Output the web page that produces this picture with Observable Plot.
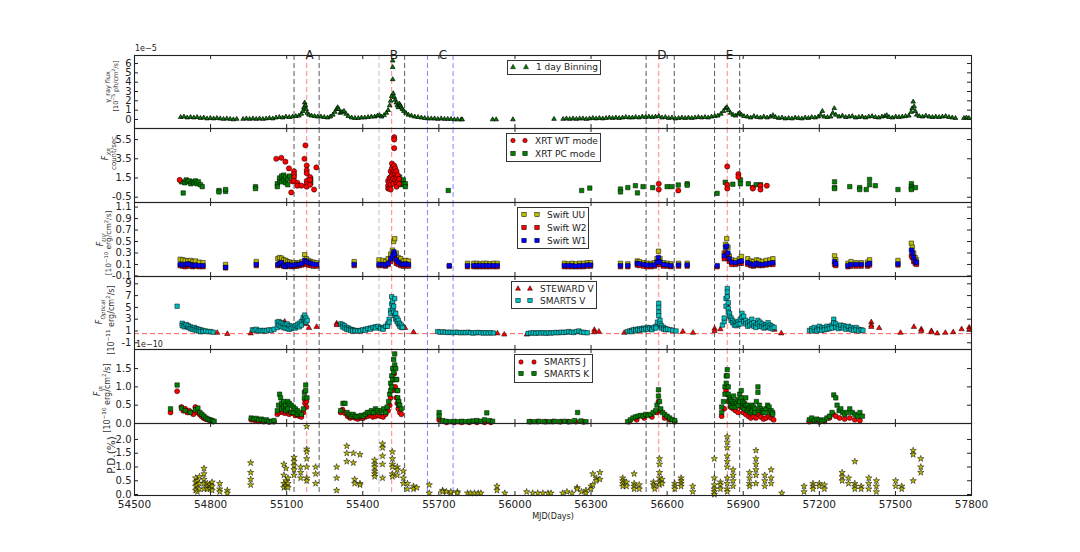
<!DOCTYPE html>
<html><head><meta charset="utf-8">
<script src="https://cdn.jsdelivr.net/npm/d3@7"></script>
<script src="https://cdn.jsdelivr.net/npm/@observablehq/plot@0.6"></script>
<style>
body{margin:0;background:#fff;font-family:"DejaVu Sans",sans-serif;}
#wrap{position:relative;width:1080px;height:552px;overflow:hidden;background:#fff;}
#wrap svg.plotsvg{position:absolute;left:0;}
.lab{position:absolute;white-space:nowrap;transform:translate(-50%,-50%) rotate(-90deg);color:#333;line-height:1;}
.lab sup,.lab sub{font-size:70%;line-height:0;}
.leg{position:absolute;border:1px solid #333;background:#fff;box-sizing:border-box;}
.leg span{position:absolute;font-size:9px;color:#222;white-space:nowrap;transform:translateY(-50%);line-height:1;}
.leg svg{position:absolute;left:0;top:0;}
.txt{position:absolute;white-space:nowrap;color:#222;line-height:1;}
</style>
</head><body><div id="wrap"></div>
<script>
// ---------------- DATA ----------------
const xTicks = [54500,54800,55100,55400,55700,56000,56300,56600,56900,57200,57500,57800];
const letterL = ["A","B","C","D","E"];
const letterT = [55190,55523,55716,56579,56846];
const blackLines = [55129,55228,55565,56517,56628,56787,56886];
const greyLines = [55464];
const redLines = [55179,55514,56567,56837];
const blueLines = [55655,55756];

// gamma-ray, 1 day binning [MJD, flux...]
const gamma = [
[54682,0.25],[54695,0.3],[54708,0.2],[54721,0.25],[54734,0.2],[54747,0.25],[54760,0.15],[54773,0.2],[54786,0.1],[54799,0.15],[54812,0.1],[54825,0.15],[54838,0.1],[54851,0.05],[54864,0.1],[54877,0.05],[54890,0.0],[54903,0.05],
[54928,0.05],[54941,0.1],[54954,0.05],[54967,0.1],[54980,0.05],[54993,0.1],[55006,0.05],[55019,0.1],[55032,0.15],[55045,0.1],[55058,0.2],[55071,0.25],[55084,0.2],[55097,0.3],[55110,0.25],[55123,0.3],[55136,0.35],[55148,0.4],[55158,0.6],[55164,0.9],[55168,1.3],[55171,1.8],[55174,1.5],[55177,1.1],[55181,0.7],[55188,0.5],[55198,0.4],[55210,0.35],[55222,0.3],[55235,0.3],[55248,0.25],[55261,0.2],[55272,0.3],[55282,0.5],[55290,0.8],[55297,1.1],[55301,1.3],[55305,1.1],[55311,0.7],[55318,0.8],[55326,0.9],[55334,0.6],[55343,0.35],[55356,0.2],[55369,0.15],[55382,0.15],[55395,0.2],[55408,0.2],[55421,0.25],[55434,0.3],[55447,0.3],[55458,0.4],[55466,0.45],[55474,0.3],[55484,0.45],[55493,0.7],[55500,1.0],[55506,1.5],[55510,2.0],[55514,2.5],[55518,6.3,5.6,4.3],[55520,2.8],[55524,2.4],[55528,2.1],[55532,1.8],[55536,1.5],[55540,1.3],[55544,1.7],[55548,1.5],[55552,1.3],[55556,1.1],[55562,0.9],[55570,0.7],[55580,0.5],[55592,0.4],[55605,0.3],[55618,0.25],[55631,0.2],[55644,0.15],[55657,0.1],[55670,0.1],[55683,0.1],[55696,0.05],[55709,0.1],[55722,0.05],[55735,0.05],[55748,0.05],[55761,0.0],[55774,0.0],[55788,0.0],[55792,0.0],
[55912,0.0],[55926,0.0],[55992,0.0],[56154,0.05],
[56190,0.05],[56203,0.1],[56216,0.05],[56229,0.1],[56242,0.05],[56255,0.1],[56268,0.1],[56281,0.05],[56294,0.1],[56307,0.15],[56320,0.1],[56333,0.15],[56346,0.1],[56359,0.15],[56372,0.2],[56385,0.15],[56398,0.2],[56411,0.15],[56424,0.2],[56437,0.25],[56450,0.2],[56463,0.2],[56476,0.25],[56489,0.2],[56502,0.3],[56515,0.25],[56528,0.3],[56541,0.25],[56554,0.3],[56567,0.35],[56580,0.2],[56593,0.25],[56606,0.15],[56619,0.2],[56632,0.1],[56645,0.15],[56658,0.2],[56671,0.15],[56684,0.2],[56697,0.15],[56710,0.2],[56723,0.25],[56736,0.2],[56749,0.25],[56762,0.2],[56775,0.3],[56788,0.35],[56800,0.4],[56812,0.6],[56822,0.9],[56830,1.2],[56836,1.3],[56842,1.0],[56850,0.7],[56860,0.5],[56870,0.4],[56880,0.6],[56886,0.7],[56893,0.5],[56903,0.35],[56916,0.3],[56929,0.2],[56942,0.35],[56955,0.25],[56968,0.2],[56981,0.3],[56994,0.2],[57007,0.3],[57017,0.45],[57027,0.25],[57040,0.15],[57053,0.2],[57066,0.1],[57079,0.15],[57092,0.1],[57105,0.2],[57118,0.15],[57131,0.1],[57144,0.2],[57157,0.15],[57170,0.25],[57183,0.2],[57196,0.3],[57205,0.5],[57212,0.9],[57219,0.3],[57232,0.25],[57245,0.3],[57253,0.7],[57259,1.2],[57265,0.5],[57278,0.3],[57291,0.4],[57304,0.25],[57317,0.3],[57330,0.35],[57343,0.2],[57356,0.25],[57369,0.3],[57382,0.2],[57395,0.3],[57408,0.35],[57421,0.25],[57434,0.2],[57447,0.3],[57458,0.35],[57466,0.45],[57475,0.25],[57488,0.2],[57501,0.3],[57514,0.25],[57527,0.3],[57540,0.35],[57553,0.4],[57562,0.8],[57566,1.2],[57570,1.9],[57574,1.4],[57578,0.9],[57584,0.5],[57594,0.35],[57607,0.3],[57620,0.4],[57633,0.3],[57646,0.25],[57659,0.3],[57672,0.25],[57685,0.3],[57698,0.35],[57711,0.25],[57724,0.2],[57737,0.15],[57770,0.15],[57780,0.2],[57790,0.15]
];

// Swift XRT count rate [MJD, rate...]
const xrtWT = [
[54678,1.3],
[55059,3.5],[55079,3.6],[55095,3.2],[55109,2.5],[55118,0.0],[55122,1.15],[55129,2.2,1.9,1.6,1.2],[55142,1.0,0.7],[55158,0.7],[55170,3.5],[55174,4.9],[55179,2.8,2.3,2.0,1.2,0.9,0.6],[55192,1.6,1.3,0.8],[55208,0.3],[55217,2.6],
[55500,1.2,0.7,0.4],[55505,1.5,1.0,0.5],[55510,2.2,1.6,0.8,0.3],[55515,3.0,2.5,1.8,1.2],[55520,2.7,2.0,1.4,0.9],[55524,5.75,5.5,4.6,2.8,2.2],[55528,2.5,1.9,1.3],[55533,2.2,1.6,1.0,0.6],[55538,1.8,1.2],[55543,1.4,0.9],
[56567,0.9,0.3],[56644,0.2],[56837,2.7,0.8,0.4],[56881,1.9,1.6],[56938,0.5,0.4],[56968,0.7,0.3],[56993,0.7]
];
const xrtPC = [
[54685,1.1],[54692,-0.06],[54698,1.0],[54704,1.3],[54710,1.1],[54716,1.2],[54722,0.9],[54728,1.1],[54734,1.0],[54740,1.2],[54746,0.9],[54752,1.1],[54760,0.8],[54767,0.6],
[54833,0.2,0.05],[54859,0.1,0.3],[54977,0.6,0.4],
[55063,0.9,0.6],[55072,1.2,1.5],[55080,1.7,1.1],[55088,1.8,1.3],[55096,1.6,1.0],[55104,1.4,0.8],[55112,1.7],[55195,1.4,1.0],
[55528,1.7],[55545,1.6,1.2],[55552,1.1,0.8],[55560,1.3,0.9],[55568,0.9,0.6],
[55737,0.2],[56263,0.2],[56295,0.45],[56416,0.35,0.05],[56445,0.5],[56475,0.7],[56483,-0.05],[56505,0.6],[56543,0.5],[56600,0.6],[56617,0.6],[56644,0.77],[56679,0.9,0.75],
[56797,-0.1],[56829,1.05],[56859,0.85],[56889,1.3,0.9],[56920,0.9],[56951,0.8],[56968,0.8],
[57260,1.1,0.5,0.4],[57320,0.6],[57359,0.5,0.3],[57385,0.3],[57398,1.35,0.8],[57421,0.7],[57510,0.3],[57563,0.9,0.6,0.4,0.3],[57579,0.5]
];

// Swift UVOT fluxes
const uvMJD = [54680,54690,54700,54710,54720,54730,54740,54755,54770,54859,54980,55065,55072,55080,55088,55096,55104,55112,55120,55130,55140,55150,55160,55171,55178,55186,55195,55205,55218,55366,55464,55480,55490,55500,55510,55517,55522,55526,55532,55540,55550,55560,55570,55580,55741,55813,55838,55850,55862,55875,55888,55900,55915,55930,56195,56210,56225,56240,56255,56270,56285,56298,56416,56445,56482,56490,56508,56520,56537,56550,56560,56566,56572,56585,56600,56615,56645,56679,56797,56825,56830,56835,56840,56845,56855,56870,56885,56893,56918,56930,56940,56952,56962,56975,56990,57005,57017,57260,57265,57313,57325,57345,57365,57390,57398,57510,57563,57567,57572,57578,57583];
const uvUU = [0.19,0.18,0.17,0.16,0.17,0.15,0.16,0.14,0.13,0.1,0.15,0.2,0.22,0.21,0.18,0.17,0.15,0.14,0.12,0.13,0.12,0.13,0.15,0.27,0.2,0.17,0.15,0.14,0.13,0.15,0.18,0.17,0.15,0.2,0.28,0.35,0.5,0.55,0.3,0.22,0.2,0.16,0.17,0.16,null,0.12,0.12,0.12,0.11,0.12,0.12,0.11,0.12,0.12,0.12,0.11,0.12,0.11,0.12,0.12,0.13,0.13,0.12,0.11,0.16,0.15,0.13,0.12,0.12,0.13,0.2,0.33,0.2,0.13,0.12,0.11,0.12,0.12,null,0.3,0.45,0.55,0.4,0.25,0.18,0.17,0.2,0.24,0.2,0.16,0.15,0.18,0.17,0.15,0.17,0.18,0.2,0.25,0.18,0.12,0.15,0.13,0.13,0.14,0.18,0.17,0.47,0.4,0.3,0.22,0.18];
const uvW2 = [0.08,0.07,0.06,0.08,0.07,0.06,0.07,0.06,0.06,0.04,0.08,0.08,0.09,0.1,0.07,0.06,0.08,0.07,0.06,0.07,0.07,0.08,0.09,0.12,0.1,0.09,0.08,0.07,0.07,0.08,0.08,0.08,0.07,0.1,0.15,0.2,0.25,0.22,0.12,0.1,0.08,0.07,0.08,0.07,0.07,0.06,0.06,0.06,0.06,0.06,0.06,0.06,0.06,0.06,0.06,0.06,0.06,0.06,0.06,0.06,0.07,0.07,0.06,0.06,0.09,0.08,0.07,0.06,0.06,0.07,0.1,0.15,0.1,0.07,0.07,0.06,0.07,0.07,0.06,0.2,0.3,0.28,0.2,0.15,0.1,0.1,0.12,0.12,0.1,0.08,0.07,0.09,0.08,0.08,0.09,0.1,0.1,0.1,0.08,0.06,0.07,0.07,0.07,0.07,0.09,0.09,0.25,0.22,0.15,0.12,0.1];
const uvW1 = [0.1,0.09,0.1,0.11,0.1,0.08,0.09,0.08,0.08,0.05,0.1,0.1,0.12,0.13,0.08,0.07,0.1,0.09,0.08,0.09,0.1,0.1,0.12,0.17,0.15,0.13,0.12,0.1,0.1,0.1,0.1,0.1,0.09,0.12,0.2,0.25,0.32,0.28,0.18,0.14,0.11,0.1,0.11,0.1,0.08,0.08,0.08,0.08,0.08,0.08,0.08,0.08,0.08,0.08,0.08,0.08,0.08,0.07,0.08,0.08,0.09,0.09,0.08,0.08,0.12,0.11,0.1,0.09,0.09,0.09,0.14,0.22,0.14,0.1,0.09,0.08,0.09,0.09,0.08,0.25,0.4,0.42,0.3,0.2,0.14,0.13,0.15,0.16,0.13,0.11,0.09,0.12,0.1,0.1,0.11,0.12,0.13,0.15,0.11,0.08,0.1,0.1,0.1,0.1,0.12,0.11,0.35,0.3,0.22,0.16,0.13];

// Optical V band [MJD, flux...]
const smartsV = [
[54668,5.2],
[54688,2.3,1.9],[54696,2.0,1.7],[54704,1.8,2.1],[54712,1.6,1.9],[54720,1.7,1.4],[54728,1.5,1.3],[54736,1.6,1.2],[54744,1.4,1.1],[54752,1.3,1.0],[54760,1.2,0.9],[54770,1.1,0.9],[54780,1.0],[54790,0.9],[54800,0.9],[54810,0.8],
[54965,1.2],[54972,1.1],[54980,1.3],[54988,1.0],[54996,1.1],[55004,1.0],[55012,1.1],[55020,1.0],[55030,1.2],[55040,1.1],[55050,1.3],
[55063,1.6,2.5],[55070,2.6,2.0],[55078,2.4,1.8],[55086,2.2,1.6],[55094,2.0,1.5],[55102,2.2,1.4],[55110,1.9,1.3],[55118,1.8,1.4],[55126,1.6],[55134,1.5,1.9],[55142,1.8,2.1],[55150,2.3,1.7],[55158,2.6,2.0],[55165,2.9,3.3],[55171,3.7,3.0],[55176,3.2,2.5],[55181,2.8],
[55313,2.2],[55320,2.1,1.7],[55328,1.9,1.5],[55336,1.6,1.3],[55344,1.5,1.2],[55352,1.3,1.1],[55360,1.2,1.0],[55370,1.1,1.0],[55380,1.0],[55390,1.1,1.0],[55400,1.2],[55410,1.3,1.1],[55420,1.4],[55430,1.5,1.3],[55440,1.6],[55450,1.7,1.5],[55460,1.8],[55470,1.6,1.4],[55480,1.5,1.3],[55490,1.8],[55498,2.2,1.8],[55504,3.0,2.5],[55510,4.5,4.0],[55514,6.8,5.6],[55518,6.0,4.8],[55522,5.2,4.2],[55526,6.5,3.6],[55530,4.0,3.0],[55535,3.2,2.6],[55540,2.8,2.2],[55546,2.3,1.8],[55552,2.0,1.6],[55557,1.6],
[55695,0.9],[55705,0.8],[55715,0.85],[55725,0.8],[55735,0.75],[55745,0.8],[55755,0.7],[55765,0.8],[55775,0.75],[55785,0.7],[55795,0.75],[55805,0.7],[55815,0.8],[55825,0.7],[55835,0.65],[55845,0.7],[55855,0.75],[55865,0.7],[55875,0.65],[55885,0.7],[55895,0.65],[55905,0.7],[55915,0.65],
[56052,0.6],[56062,0.65],[56072,0.7],[56082,0.6],[56092,0.7],[56102,0.65],[56112,0.7],[56122,0.6],[56132,0.7],[56142,0.65],[56152,0.7],[56162,0.75],[56172,0.7],[56182,0.8],[56192,0.75],[56202,0.8],[56212,0.9],[56222,0.8],[56232,0.75],[56242,0.9],[56252,1.0],[56262,0.8],[56272,0.75],[56285,0.7],
[56444,0.9],[56452,1.0],[56460,1.1,0.9],[56468,1.2],[56476,1.3,1.0],[56484,1.2],[56492,1.4,1.1],[56500,1.3],[56508,1.5,1.2],[56516,1.4],[56524,1.6,1.3],[56532,1.5],[56540,1.4,1.2],[56548,1.6],[56556,1.8,1.5],[56562,2.5],[56567,5.7,5.0,4.2,3.6],[56572,2.8,2.2],[56578,1.9,1.5],[56586,1.6,1.3],[56594,1.4,1.2],[56602,1.3],[56612,1.2],[56622,1.1],[56635,1.0],
[56818,2.0],[56825,2.6,3.2],[56832,6.5,5.2],[56837,8.2,7.6,6.8],[56841,5.8,4.8,4.2],[56846,4.0,3.5],[56852,3.2,2.8],[56858,2.8,2.4],[56865,2.5,2.0],[56872,2.3,1.9],[56880,2.6,2.1],[56888,3.0,2.2],[56895,4.0,3.3],[56902,3.5,2.6],[56910,2.8,2.2],[56918,2.4,1.8],[56926,2.6,2.0],[56934,3.0,2.2],[56942,2.4,1.8],[56950,2.0,1.6],[56958,2.8,2.2],[56966,2.5,1.8],[56974,2.2,1.7],[56982,1.9,1.5],[56990,2.1,1.6],[56998,2.4,1.8],[57006,2.0,1.5],[57014,1.8,1.4],[57022,1.6],
[57161,1.1],[57170,1.4,1.0],[57180,1.2,1.6],[57190,1.3,1.0],[57200,1.8,1.2],[57210,1.5,1.1],[57220,1.6,1.2],[57230,1.8,1.3],[57240,1.7,1.4],[57250,2.0,1.5],[57257,3.0,2.4],[57265,2.2,1.6],[57275,1.8,1.4],[57285,1.6,2.0],[57295,1.9,1.5],[57305,1.7,1.3],[57315,1.5,1.8],[57325,1.6,1.2],[57335,1.4,1.1],[57345,1.6,1.2],[57355,1.3,1.0],[57365,1.2],[57372,1.1]
];
const stewardV = [
[54826,0.7],[54866,0.5],[54958,0.6],[55092,2.6],[55176,2.2],[55188,1.5],[55218,1.7],[55297,2.3,2.0],[55567,1.5],[55600,0.8],[55931,0.6],[55958,0.4],[56047,0.4],[56313,1.2,0.8],[56331,0.9],[56431,0.7],[56662,0.9],[56702,0.7],[56787,1.4,1.0],[56810,1.3],[56837,7.0,5.5],[57023,1.2],[57050,0.6],[57405,2.5,2.0,1.7],[57436,1.5],[57520,0.7],[57573,1.7],[57602,1.3,1.0],[57642,1.0,0.8],[57665,0.6],[57697,0.7],[57728,0.8],[57761,1.3],[57791,1.6,1.2]
];
const hostLevel = [0.55];

// Near-IR [MJD, flux...]
const smartsJ = [
[54642,0.3],[54668,0.88],[54685,0.45],[54692,0.35],[54700,0.4],[54708,0.3],[54716,0.35],[54724,0.3],[54732,0.25],[54740,0.45],[54748,0.3],[54756,0.25],[54764,0.2],[54772,0.15],[54780,0.12],[54790,0.1],[54800,0.08],[54810,0.05],
[54960,0.1],[54975,0.08],[54990,0.06],[55010,0.05],[55030,0.04],[55050,0.05],
[55063,0.25],[55070,0.3],[55078,0.35],[55086,0.3],[55094,0.28],[55102,0.32],[55110,0.25],[55118,0.3],[55126,0.28],[55134,0.22],[55142,0.25],[55150,0.2],[55158,0.18],[55166,0.3],[55172,0.65,0.55],[55178,0.6,0.45],
[55313,0.3],[55320,0.38],[55330,0.28],[55340,0.2],[55350,0.15],[55360,0.18],[55370,0.15],[55380,0.12],[55390,0.15],[55400,0.14],[55410,0.18],[55420,0.2],[55430,0.22],[55440,0.18],[55450,0.2],[55460,0.22],[55470,0.2],[55480,0.18],[55490,0.25],[55500,0.35],[55506,0.5],[55510,0.7],[55515,0.9],[55520,1.2],[55524,1.36],[55528,1.0],[55532,0.7],[55536,0.55],[55540,0.4],[55546,0.3],[55552,0.25],
[55701,0.1],[55730,0.03],[55760,0.03],[55790,0.03],[55820,0.03],[55850,0.03],[55880,0.03],[55905,0.03],
[56060,0.05],[56090,0.05],[56120,0.05],[56150,0.05],[56180,0.05],[56210,0.05],[56240,0.05],[56270,0.04],
[56450,0.05],[56480,0.1],[56510,0.15],[56540,0.18],[56560,0.3],[56566,0.6],[56572,0.35],[56590,0.15],[56610,0.1],[56630,0.05],
[56815,0.2],[56825,0.4],[56832,0.9],[56837,1.0,0.8],[56842,0.6],[56850,0.45],[56860,0.4],[56870,0.35],[56880,0.3],[56890,0.45],[56900,0.3],[56910,0.25],[56920,0.2],[56930,0.15],[56940,0.2],[56950,0.15],[56960,0.25],[56970,0.18],[56980,0.12],[56990,0.15],[57000,0.2],[57010,0.15],[57020,0.1],
[57160,0.05],[57180,0.08],[57200,0.04],[57220,0.06],[57240,0.15],[57255,0.25],[57265,0.2],[57280,0.15],[57300,0.12],[57320,0.15],[57340,0.1],[57360,0.08]
];
const smartsK = [
[54642,0.4],[54668,1.05],[54685,0.42],[54700,0.35],[54720,0.3],[54740,0.38],[54750,0.42],[54758,0.3],[54766,0.25],[54774,0.2],[54782,0.15],[54790,0.12],[54798,0.1],[54806,0.08],[54814,0.06],
[54960,0.15],[54970,0.12],[54980,0.14],[54990,0.1],[55000,0.12],[55010,0.08],[55020,0.1],[55030,0.06],[55040,0.05],[55050,0.08],
[55063,0.35],[55068,0.5],[55072,0.8],[55076,0.7],[55080,0.55,0.4],[55088,0.6,0.45],[55096,0.5,0.35],[55104,0.6,0.4],[55110,0.55],[55118,0.5,0.3],[55126,0.45,0.3],[55134,0.4],[55142,0.35,0.25],[55150,0.3],[55158,0.25],[55166,0.4],[55170,0.85,0.7],[55175,1.05,0.9],[55180,0.7],
[55313,0.35],[55322,0.55],[55330,0.55],[55338,0.3],[55346,0.25],[55354,0.2],[55362,0.25],[55370,0.2],[55378,0.18],[55386,0.2],[55394,0.22],[55402,0.2],[55410,0.25],[55418,0.3],[55426,0.3],[55434,0.35],[55442,0.3],[55450,0.4],[55458,0.35],[55466,0.3],[55474,0.35],[55482,0.4],[55490,0.3],[55496,0.45],[55502,0.6],[55506,0.8],[55510,1.1,0.9],[55514,1.3,1.0],[55518,1.5,1.2],[55522,1.75,1.4],[55526,1.9,1.6],[55530,1.5,1.2],[55534,1.2,0.9],[55538,0.9,0.7],[55542,0.6,0.5],[55546,0.5],[55552,0.4],
[55701,0.3,0.2],[55715,0.08],[55728,0.06],[55745,0.05],[55760,0.06],[55775,0.05],[55790,0.06],[55805,0.05],[55820,0.06],[55835,0.07],[55850,0.08],[55865,0.06],[55880,0.1],[55889,0.29],[55900,0.08],[55912,0.06],
[56056,0.05],[56075,0.05],[56095,0.06],[56115,0.05],[56135,0.05],[56155,0.06],[56175,0.05],[56195,0.06],[56215,0.05],[56235,0.08],[56247,0.3],[56260,0.07],[56280,0.05],
[56444,0.05],[56455,0.1],[56465,0.15],[56475,0.18],[56485,0.2],[56495,0.22],[56505,0.2],[56515,0.25],[56525,0.22],[56535,0.25],[56545,0.3],[56555,0.35],[56560,0.5],[56566,0.92,0.75],[56570,0.6],[56575,0.4],[56582,0.3],[56590,0.25],[56600,0.2],[56610,0.15],[56620,0.1],[56630,0.08],
[56815,0.45,0.3],[56822,0.6],[56828,1.0,0.8],[56833,1.3,1.1],[56837,1.47,1.3],[56841,1.0,0.8],[56845,0.7,0.6],[56850,0.65,0.5],[56856,0.6,0.45],[56862,0.75,0.55],[56868,0.6,0.45],[56874,0.55],[56880,0.65,0.5],[56886,0.8,0.6],[56892,0.9,0.7],[56898,0.6,0.45],[56904,0.55,0.4],[56910,0.7,0.5],[56916,0.5,0.35],[56922,0.4],[56928,0.45,0.3],[56934,0.5,0.35],[56940,0.45],[56946,0.4,0.3],[56952,0.6],[56958,0.85,1.0],[56964,0.5,0.35],[56970,0.4],[56976,0.35,0.3],[56982,0.3],[56990,0.4],[56996,0.5],[57002,0.45,0.3],[57010,0.35],[57016,0.3,0.25],
[57160,0.1],[57170,0.15],[57180,0.08],[57190,0.12],[57200,0.1],[57210,0.06],[57220,0.1],[57230,0.15],[57240,0.2],[57250,0.3],[57257,0.78],[57265,0.7],[57270,0.5],[57278,0.35],[57285,0.4],[57292,0.3],[57300,0.25],[57310,0.3],[57320,0.4],[57330,0.3],[57340,0.25],[57350,0.2],[57360,0.3],[57370,0.2]
];

// Polarization degree [MJD, P.D.(%)...]
const polDeg = [
[54741,0.6,0.45,0.3,0.15],[54748,0.5,0.35,0.1],[54756,0.65,0.4,0.2],[54774,0.95,0.75,0.55,0.4,0.2],[54787,0.4,0.3,0.2],[54797,0.35,0.2],[54806,0.45,0.3,0.15],[54836,0.4,0.2,0.1],[54866,0.15,0.05],[54958,1.15,0.8,0.55,0.35],
[55089,1.1,0.7,0.4,0.25],[55097,0.95,0.5,0.3],[55105,0.6,0.4,0.25],[55129,1.35,1.2,1.05,0.9,0.7],[55155,1.0,0.8,0.6],[55179,2.47,1.65,1.55,1.3,1.0,0.6,0.5],[55214,1.0,0.75,0.4],[55297,1.0,0.6,0.15],[55337,1.76,1.5,1.2],[55363,1.5,1.15],[55368,0.55,0.4],[55389,1.45,0.4,0.35],[55447,1.25,1.1,1.0,0.85,0.75,0.65],
[55478,1.84,1.7,1.4,1.1,0.6],[55517,1.55,1.3,1.1,1.0,0.75,0.65],[55536,1.0,0.9,0.7],[55560,0.85,0.6,0.4],[55576,0.4,0.2],[55600,0.3,0.2],[55613,0.25],[55662,0.35,0.05],[55715,0.15,0.1],[55730,0.1],[55747,0.05,0.1],[55773,0.1,0.05],[55813,0.05],[55825,0.05],[55840,0.05],[55855,0.05],[55866,0.05],[55929,0.3,0.15],[55960,0.05],[56046,0.1],[56070,0.05],[56090,0.05],[56110,0.05],[56130,0.05],[56142,0.05],[56188,0.05],[56205,0.1],[56225,0.05],[56245,0.25,0.2],[56262,0.1],[56280,0.15,0.05],[56300,0.3,0.2],[56307,0.75,0.35],[56320,0.6,0.5],[56335,0.8,0.55],
[56425,0.6,0.5,0.4,0.3],[56440,0.45,0.3],[56470,0.75,0.4,0.3,0.2],[56490,0.35,0.2],[56546,0.45,0.35],[56551,0.3,0.2],[56570,1.3,1.1,0.8,0.6,0.45,0.35],[56580,0.55,0.4],[56630,0.4,0.3,0.2],[56655,0.6,0.5,0.4,0.3],[56701,0.3,0.1],[56786,1.3,0.6,0.35,0.2,0.1,0.0],[56810,0.45,0.35,0.2],[56837,2.1,1.9,1.7,1.4,1.2,1.0,0.6,0.4,0.2,0.1],[56860,0.9,0.7,0.5,0.3],[56925,0.8,0.6,0.4,0.3],[56950,1.6,1.3,1.1,0.9,0.7,0.4],[56985,0.7,0.5,0.3],[57010,0.9,0.6,0.4],[57052,0.05],[57140,0.3,0.1],[57175,0.4,0.3,0.2],[57200,0.4,0.3],[57220,0.35,0.2],[57290,0.8,0.65,0.5],[57315,0.6,0.4],[57340,1.2,0.4,0.3,0.2],[57365,0.3,0.2],[57395,0.6,0.4,0.2],[57425,0.5,0.3,0.1],[57501,0.5,0.3],[57525,0.3,0.2],[57570,1.6,1.45,0.5],[57600,1.3,1.0,0.8]
];

// y-axis ticks per panel
const yTicks1 = [0,1,2,3,4,5,6];
const yTicks2 = [-0.5,1.5,3.5,5.5];
const yTicks3 = [-0.1,0.1,0.3,0.5,0.7,0.9,1.1];
const yTicks4 = [-1,1,3,5,7,9];
const yTicks5 = [0,0.5,1.0,1.5];
const yTicks6 = [0,0.5,1.0,1.5,2.0];

// ---------------- DRAWING ----------------
const flat = arr => arr.flatMap(([t, ...vs]) => vs.filter(v => v != null).map(v => ({t, v})));
const cols = (vals) => uvMJD.map((t, i) => ({t, v: vals[i]})).filter(d => d.v != null);

const ML = 134, MR = 109, W = 1080;
const FW = W - ML - MR;
const GREEN = "#008000", RED = "#ff0000", BLUE = "#0000ff", YEL = "#bfbf00", CYAN = "#00bfbf";
const wrap = document.getElementById("wrap");

function vlines() {
  const o = {strokeDasharray: "5,3", strokeWidth: 1};
  return [
    Plot.ruleX(greyLines, {...o, stroke: "#9a9a9a", strokeOpacity: 0.6}),
    Plot.ruleX(blackLines, {...o, stroke: "#111", strokeOpacity: 0.7}),
    Plot.ruleX(redLines, {...o, stroke: "#ff3333", strokeOpacity: 0.6}),
    Plot.ruleX(blueLines, {...o, stroke: "#3333ff", strokeOpacity: 0.6})
  ];
}

function panel({top, h, mt = 0, mb = 0, domain, ticks, fmt, marks, xLabels = false}) {
  const m = [
    ...vlines(),
    ...marks,
    Plot.tickX(xTicks, {insetBottom: h - 4, stroke: "#222"}),
    Plot.tickX(xTicks, {insetTop: h - 4, stroke: "#222"}),
    Plot.tickY(ticks, {insetRight: FW - 4, stroke: "#222"}),
    Plot.tickY(ticks, {insetLeft: FW - 4, stroke: "#222"}),
    Plot.axisY(ticks, {anchor: "left", tickSize: 0, tickPadding: 3, tickFormat: fmt, label: null, fontSize: 10}),
    Plot.frame({stroke: "#222", strokeWidth: 1.1})
  ];
  if (xLabels) m.push(Plot.axisX(xTicks, {anchor: "bottom", tickSize: 0, tickPadding: 5, tickFormat: d => String(d), label: null, fontSize: 10.5}));
  const svg = Plot.plot({
    width: W, height: h + mt + mb,
    marginLeft: ML, marginRight: MR, marginTop: mt, marginBottom: mb,
    x: {domain: [54500, 57800], axis: null},
    y: {domain, axis: null},
    style: {background: "transparent", overflow: "visible", fontFamily: "DejaVu Sans", fontSize: "10px", color: "#222"},
    marks: m
  });
  svg.classList.add("plotsvg");
  svg.style.top = (top - mt) + "px";
  svg.style.position = "absolute";
  svg.style.left = "0px";
  wrap.appendChild(svg);
}

const dotStroke = {stroke: "#000", strokeWidth: 0.5};
const f1 = d => String(d);
const f2 = d => d.toFixed(1);

// Panel 1: gamma-ray
panel({top: 55, h: 73, mt: 55, domain: [-0.965, 6.86], ticks: yTicks1, fmt: f1, marks: [
  Plot.dot(flat(gamma), {x: "t", y: "v", symbol: "triangle", r: 1.7, fill: GREEN, stroke: "#000", strokeWidth: 0.7}),
  Plot.text(letterL, {x: (d, i) => letterT[i], text: d => d, frameAnchor: "top", dy: -5.5, fontSize: 12, fill: "#222"})
]});
// Panel 2: X-ray
panel({top: 128, h: 74, domain: [-1.05, 6.65], ticks: yTicks2, fmt: f2, marks: [
  Plot.dot(flat(xrtPC), {x: "t", y: "v", symbol: "square", r: 2.5, fill: GREEN, ...dotStroke}),
  Plot.dot(flat(xrtWT), {x: "t", y: "v", symbol: "circle", r: 2.6, fill: RED, ...dotStroke})
]});
// Panel 3: UV
panel({top: 202, h: 74, domain: [-0.11, 1.18], ticks: yTicks3, fmt: f2, marks: [
  Plot.dot(cols(uvUU), {x: "t", y: "v", symbol: "square", r: 2.5, fill: YEL, ...dotStroke}),
  Plot.dot(cols(uvW2), {x: "t", y: "v", symbol: "square", r: 2.5, fill: RED, ...dotStroke}),
  Plot.dot(cols(uvW1), {x: "t", y: "v", symbol: "square", r: 2.5, fill: BLUE, ...dotStroke})
]});
// Panel 4: Optical
panel({top: 276, h: 73, domain: [-2.14, 10.24], ticks: yTicks4, fmt: f1, marks: [
  Plot.ruleY(hostLevel, {stroke: "#ff3333", strokeDasharray: "5,3", strokeOpacity: 0.8}),
  Plot.dot(flat(stewardV), {x: "t", y: "v", symbol: "triangle", r: 2.0, fill: RED, ...dotStroke}),
  Plot.dot(flat(smartsV), {x: "t", y: "v", symbol: "square", r: 2.5, fill: CYAN, ...dotStroke})
]});
// Panel 5: IR
panel({top: 349, h: 74, domain: [0, 2.02], ticks: yTicks5, fmt: f2, marks: [
  Plot.dot(flat(smartsJ), {x: "t", y: "v", symbol: "circle", r: 2.5, fill: RED, ...dotStroke}),
  Plot.dot(flat(smartsK), {x: "t", y: "v", symbol: "square", r: 2.5, fill: GREEN, ...dotStroke})
]});
// Panel 6: P.D.
panel({top: 423, h: 72, mb: 57, domain: [-0.036, 2.58], ticks: yTicks6, fmt: f2, xLabels: true, marks: [
  Plot.dot(flat(polDeg), {x: "t", y: "v", symbol: "star", r: 2.0, fill: YEL, ...dotStroke})
]});

// ---------------- TEXT OVERLAYS ----------------
function addLab(html, x, y, size) {
  const d = document.createElement("div");
  d.className = "lab";
  d.style.left = x + "px"; d.style.top = y + "px"; d.style.fontSize = size + "px";
  d.innerHTML = html;
  wrap.appendChild(d);
}
addLab("γ_ray flux", 108, 87, 6.5);
addLab("[10<sup>−5</sup> ph/cm<sup>2</sup>/s]", 116, 86, 6.5);
addLab("<i>F<sub>XR</sub></i>", 106, 154, 8);
addLab("count/sec", 114, 153, 7);
addLab("<i>F<sub>UV</sub></i>", 101, 240, 8);
addLab("[10<sup>−10</sup> erg/cm<sup>2</sup>/s]", 109, 243, 7.5);
addLab("<i>F<sub>Optical</sub></i>", 100, 312, 8);
addLab("[10<sup>−11</sup> erg/cm<sup>2</sup>/s]", 112, 320, 8);
addLab("<i>F<sub>IR</sub></i>", 98, 391, 8);
addLab("[10<sup>−10</sup> erg/cm<sup>2</sup>/s]", 108, 398, 8);
addLab("P.D.(%)", 111, 455, 10.5);

function addTxt(html, x, y, size, center = false) {
  const d = document.createElement("div");
  d.className = "txt";
  d.style.left = x + "px"; d.style.top = y + "px"; d.style.fontSize = size + "px";
  d.style.transform = center ? "translate(-50%,-50%)" : "translateY(-50%)";
  d.innerHTML = html;
  wrap.appendChild(d);
}
addTxt("1e−5", 135, 49, 8);
addTxt("1e−10", 136, 345, 8);
addTxt("MJD(Days)", 553, 517, 8, true);

// legends
const legendSpecs = [
  {left: 507, top: 60, w: 94, h: 15, mx: [5, 18], tx: 28, items: [{y: 7, sym: "tri", fill: GREEN, label: "1 day Binning"}]},
  {left: 506, top: 133, w: 95, h: 29, mx: [6, 18], tx: 28, items: [{y: 7.5, sym: "circ", fill: RED, label: "XRT WT mode"}, {y: 20.5, sym: "sq", fill: GREEN, label: "XRT PC mode"}]},
  {left: 517, top: 207, w: 72, h: 42, mx: [6, 19], tx: 29, items: [{y: 7.5, sym: "sq", fill: YEL, label: "Swift UU"}, {y: 20.5, sym: "sq", fill: RED, label: "Swift W2"}, {y: 33.5, sym: "sq", fill: BLUE, label: "Swift W1"}]},
  {left: 511, top: 281, w: 86, h: 28, mx: [6, 18], tx: 28, items: [{y: 7.5, sym: "tri", fill: RED, label: "STEWARD V"}, {y: 19.5, sym: "sq", fill: CYAN, label: "SMARTS V"}]},
  {left: 514, top: 354, w: 79, h: 29, mx: [6, 19], tx: 29, items: [{y: 8, sym: "circ", fill: RED, label: "SMARTS J"}, {y: 19.5, sym: "sq", fill: GREEN, label: "SMARTS K"}]}
];
function symSvg(kind, x, y, fill) {
  const st = `fill="${fill}" stroke="#000" stroke-width="0.5"`;
  if (kind === "circ") return `<circle cx="${x}" cy="${y}" r="2.2" ${st}/>`;
  if (kind === "sq") return `<rect x="${x - 2.2}" y="${y - 2.2}" width="4.4" height="4.4" ${st}/>`;
  return `<path d="M${x},${y - 2.7}L${x + 2.5},${y + 1.7}L${x - 2.5},${y + 1.7}Z" ${st}/>`;
}
for (const L of legendSpecs) {
  const d = document.createElement("div");
  d.className = "leg";
  d.style.left = L.left + "px"; d.style.top = L.top + "px";
  d.style.width = L.w + "px"; d.style.height = L.h + "px";
  let svg = `<svg width="${L.w}" height="${L.h}">`;
  let spans = "";
  for (const it of L.items) {
    for (const mx of L.mx) svg += symSvg(it.sym, mx, it.y - 1, it.fill);
    spans += `<span style="left:${L.tx}px;top:${it.y - 1}px">${it.label}</span>`;
  }
  svg += "</svg>";
  d.innerHTML = svg + spans;
  wrap.appendChild(d);
}
</script>
</body></html>
